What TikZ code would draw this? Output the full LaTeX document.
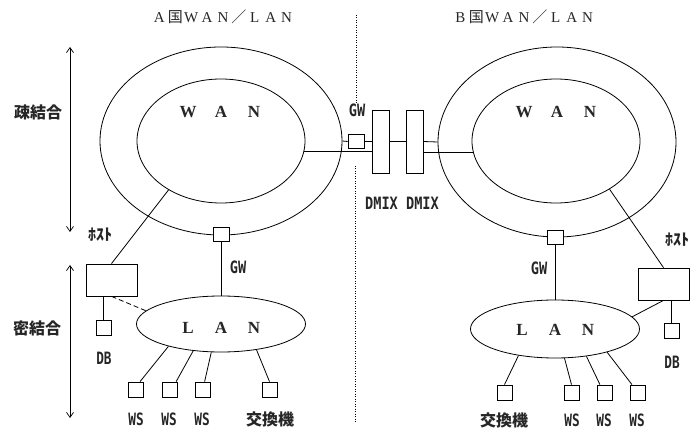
\documentclass[tikz,border=0pt]{standalone}
\usepackage{fontspec}
\usepackage{graphicx}
\setmainfont{Liberation Serif}
\newfontfamily\cjk{Noto Sans CJK JP}
\newfontfamily\labf{DejaVu Sans Mono}
\usetikzlibrary{shapes.geometric,arrows.meta,calc}
\newcommand{\fwc}[1]{\makebox[15.9pt]{#1}}
\newcommand{\spc}[1]{\makebox[33pt]{#1}}
\newcommand{\lbl}[2][0.75]{\scalebox{#1}[1]{\labf\bfseries #2}}
\begin{document}
\begin{tikzpicture}[x=1pt,y=-1pt,line width=0.8pt,
  ring/.style={draw,ellipse,inner sep=0pt},
  sbox/.style={draw,rectangle,inner sep=0pt,minimum width=15pt,minimum height=15pt},
  gwbox/.style={draw,rectangle,inner sep=0pt,minimum width=16pt,minimum height=14pt,fill=white},
  dmix/.style={draw,rectangle,inner sep=0pt,minimum width=17pt,minimum height=63pt},
  host/.style={draw,rectangle,inner sep=0pt,minimum width=51pt,minimum height=32pt},
  txt/.style={inner sep=0pt,text=black!85},
  title/.style={txt,font=\fontsize{15}{15}\selectfont},
  big/.style={txt,font=\fontsize{17}{17}\selectfont\bfseries},
  jp/.style={txt,font=\fontsize{16}{16}\selectfont\cjk\bfseries},
  small/.style={txt,font=\fontsize{17}{17}\selectfont},
  dual/.style={{Straight Barb[length=5pt,width=7pt]}-{Straight Barb[length=5pt,width=7pt]},line width=0.7pt},
  sep/.style={line width=0.8pt,dash pattern=on 1pt off 1.5pt}
]
\useasboundingbox (0,0) rectangle (694,430);

% titles
\node[title] (tA) at (223,17) {\fwc{A}\fwc{\cjk 国}\fwc{W}\fwc{A}\fwc{N}\fwc{\cjk ／}\fwc{L}\fwc{A}\fwc{N}};
\node[title] (tB) at (524,17) {\fwc{B}\fwc{\cjk 国}\fwc{W}\fwc{A}\fwc{N}\fwc{\cjk ／}\fwc{L}\fwc{A}\fwc{N}};

% separator
\coordinate (s1) at (356,15); \coordinate (s2) at (356,104);
\coordinate (s3) at (355,166); \coordinate (s4) at (355,422);
\draw[sep] (s1) -- (s2);
\draw[sep] (s3) -- (s4);

% left scale arrows
\coordinate (a1) at (70,47); \coordinate (a2) at (70,232);
\coordinate (a3) at (70,265); \coordinate (a4) at (70,418);
\draw[dual] (a1) -- (a2);
\draw[dual] (a3) -- (a4);
\node[jp] (loose) at (38,112) {疎結合};
\node[jp] (tight) at (37,328) {密結合};

% WAN A
\node[ring,minimum width=242pt,minimum height=188pt] (woA) at (221,141) {};
\node[ring,minimum width=168pt,minimum height=124pt] (wiA) at (221,141) {};
\node[big] (wanA) at (221,112) {\spc{W}\spc{A}\spc{N}};

% WAN B
\node[ring,minimum width=238pt,minimum height=190pt] (woB) at (557,142) {};
\node[ring,minimum width=168pt,minimum height=124pt] (wiB) at (556,141) {};
\node[big] (wanB) at (557,112) {\spc{W}\spc{A}\spc{N}};

% central gateway and DMIX
\node[gwbox] (gwX) at (356,141.5) {};
\node[small] (gwXl) at (357,110) {\lbl[0.8]{GW}};
\node[dmix] (dmA) at (380.5,141.5) {};
\node[dmix] (dmB) at (414.5,141.5) {};
\node[small] (dml) at (402,203) {\lbl[0.8]{DMIX DMIX}};
\draw (woA.east) -- (gwX.west);
\draw (gwX.east) -- (dmA.west);
\draw (dmA.east) -- (dmB.west);
\draw (dmB.east) -- (woB.west);
\draw (wiA.-7.58) -- (wiA.-7.58 -| dmA.west);
\draw (wiB.-172.42) -- (wiB.-172.42 -| dmB.east);

% A side LAN
\node[gwbox] (gwA) at (221,234) {};
\node[small] (gwAl) at (238,267) {\lbl[0.8]{GW}};
\node[ring,minimum width=169pt,minimum height=56pt] (lanA) at (221,324) {};
\node[big] (lanAl) at (221,328) {\spc{L}\spc{A}\spc{N}};
\draw (gwA.south) -- (lanA.north);

\node[txt,font=\fontsize{16}{16}\selectfont\cjk\bfseries] (hAl) at (100,235) {ﾎｽﾄ};
\node[host] (hA) at (111.5,280) {};
\draw (wiA.-137.8) -- (hA.north);
\node[sbox] (dbA) at (103.5,327.5) {};
\node[small] (dbAl) at (104,358) {\lbl[0.75]{DB}};
\draw (hA.south -| dbA.north) -- (dbA.north);
\draw[dashed,dash pattern=on 5pt off 3pt] (hA.south) -- (lanA.170.8);

\node[sbox] (wa1) at (135.5,389.5) {};
\node[sbox] (wa2) at (169.5,389.5) {};
\node[sbox] (wa3) at (202.5,389.5) {};
\node[sbox] (ka) at (269.5,389.5) {};
\draw (lanA.-157) -- (wa1.60);
\draw (lanA.-136.7) -- (wa2.50);
\draw (lanA.-109.8) -- (wa3.75);
\draw (lanA.-36.1) -- (ka.north);
\node[small] (wa1l) at (136,419) {\lbl[0.75]{WS}};
\node[small] (wa2l) at (169,419) {\lbl[0.75]{WS}};
\node[small] (wa3l) at (202,419) {\lbl[0.75]{WS}};
\node[jp] (kal) at (270,419) {交換機};

% B side LAN
\node[gwbox] (gwB) at (555,237) {};
\node[small] (gwBl) at (539,268) {\lbl[0.8]{GW}};
\node[ring,minimum width=169pt,minimum height=58pt] (lanB) at (555,329) {};
\node[big] (lanBl) at (555,330) {\spc{L}\spc{A}\spc{N}};
\draw (gwB.south) -- (lanB.north);

\node[txt,font=\fontsize{16}{16}\selectfont\cjk\bfseries] (hBl) at (677,240) {ﾎｽﾄ};
\node[host] (hB) at (663.5,284) {};
\draw (wiB.-42.8) -- (hB.north);
\node[sbox] (dbB) at (671.5,330.5) {};
\node[small] (dbBl) at (672,362) {\lbl[0.75]{DB}};
\draw (hB.south -| dbB.north) -- (dbB.north);
\draw (hB.south) -- (lanB.9.5);

\node[sbox] (kb) at (504.5,392.5) {};
\node[sbox] (wb1) at (571.5,392.5) {};
\node[sbox] (wb2) at (604.5,392.5) {};
\node[sbox] (wb3) at (637.5,392.5) {};
\draw (lanB.-144) -- (kb.north);
\draw (lanB.-72.6) -- (wb1.north);
\draw (lanB.-41.1) -- (wb2.120);
\draw (lanB.-24.4) -- (wb3.125);
\node[jp] (kbl) at (504,420) {交換機};
\node[small] (wb1l) at (572,420) {\lbl[0.75]{WS}};
\node[small] (wb2l) at (604,420) {\lbl[0.75]{WS}};
\node[small] (wb3l) at (637,420) {\lbl[0.75]{WS}};
\end{tikzpicture}
\end{document}
